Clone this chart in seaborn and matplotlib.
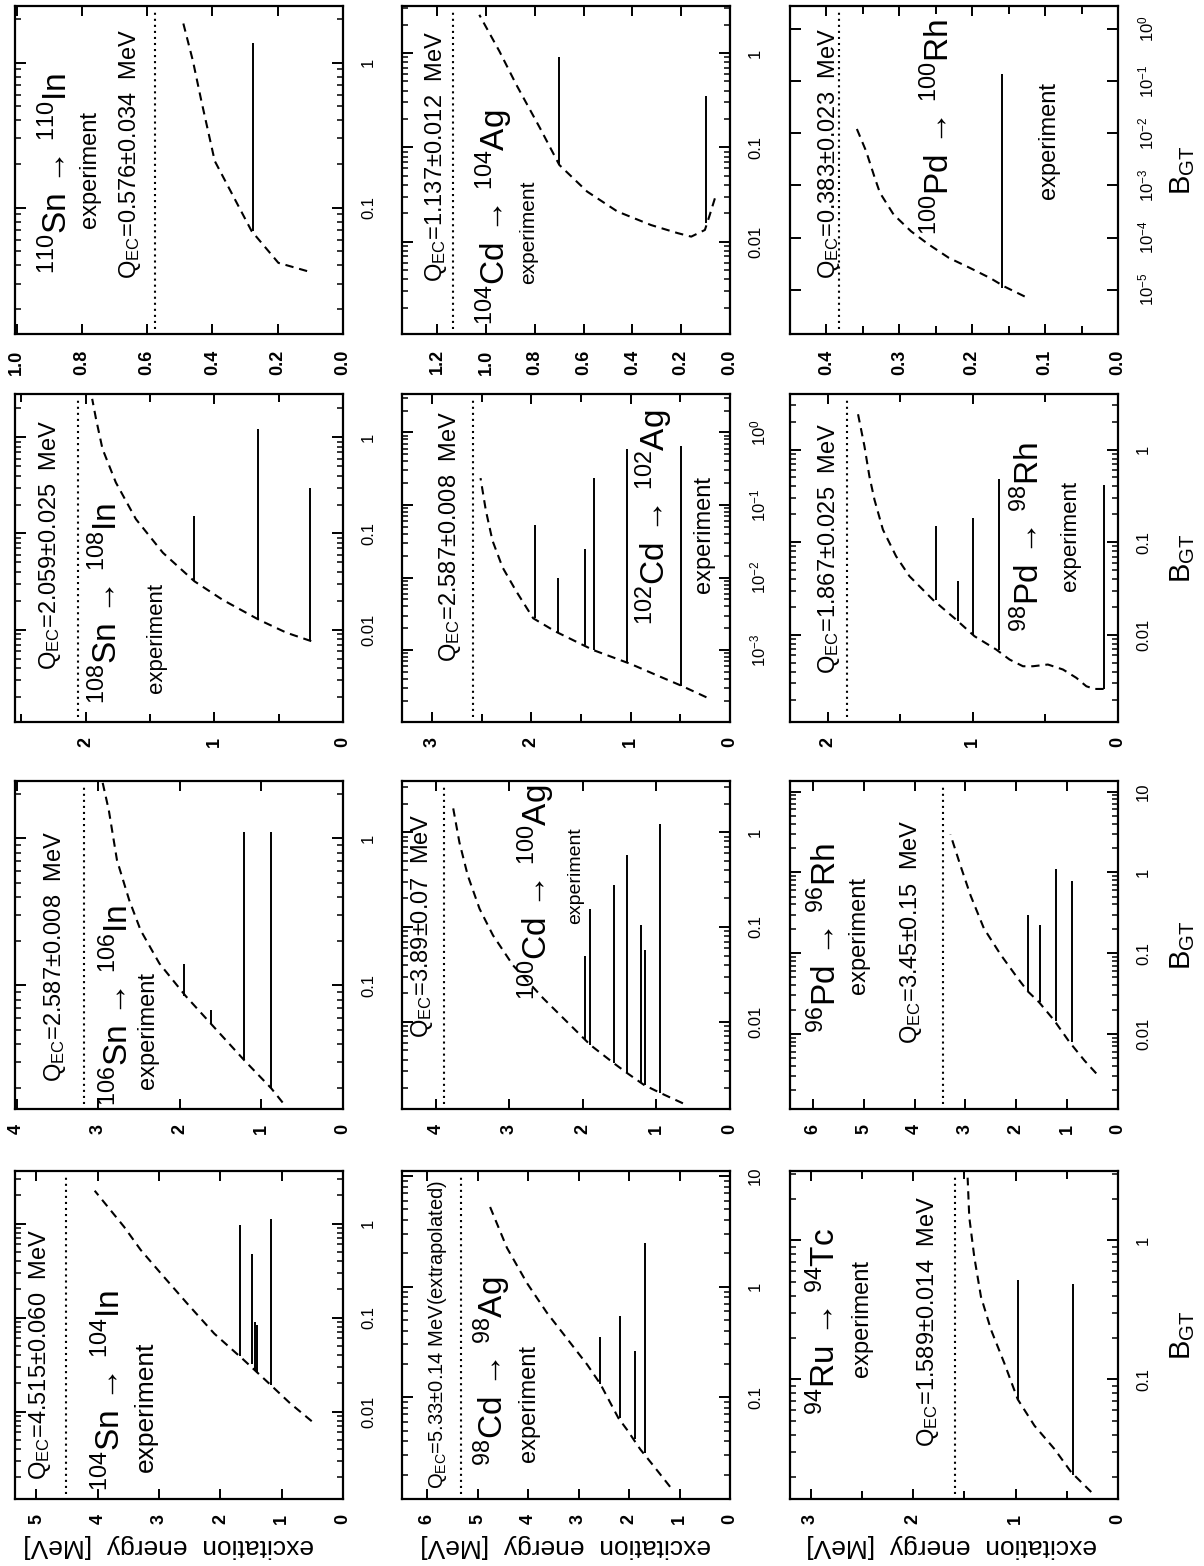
import numpy as np
import pandas as pd
import matplotlib
matplotlib.use("Agg")
import matplotlib.pyplot as plt
from matplotlib.ticker import (MultipleLocator, LogLocator, NullFormatter,
                               FuncFormatter, LogFormatterMathtext, NullLocator)
import seaborn as sns

sns.set_theme(style="ticks")
plt.rcParams["font.family"] = ["Liberation Sans", "DejaVu Sans"]
plt.rcParams["mathtext.fontset"] = "custom"
plt.rcParams["mathtext.rm"] = "Liberation Sans"
plt.rcParams["mathtext.it"] = "Liberation Sans:italic"
plt.rcParams["mathtext.bf"] = "Liberation Sans:bold"
plt.rcParams["axes.linewidth"] = 1.5
plt.rcParams["axes.edgecolor"] = "black"

# ---------------------------------------------------------------------------
# Gamow-Teller strength: sensitivity limit (dashed) and observed levels
# energies in MeV, B_GT dimensionless
# ---------------------------------------------------------------------------

# 110Sn -> 110In
sn110_limit_e = [0.11, 0.198, 0.28, 0.393, 0.434, 0.46, 0.49]
sn110_limit_b = [0.0366, 0.0417, 0.069, 0.21, 0.545, 1.03, 1.89]
sn110_level_e = [0.275]
sn110_level_b0 = [0.069]
sn110_level_b = [1.37]
sn110_q = 0.576
sn110_q_text = "0.576±0.034"

# 108Sn -> 108In
sn108_limit_e = [0.247, 0.44, 0.65, 0.935, 1.156, 1.40, 1.61, 1.766, 1.87, 1.92, 1.95]
sn108_limit_b = [0.0076, 0.0093, 0.0126, 0.0204, 0.0319, 0.063, 0.141, 0.339, 0.759, 1.55, 2.51]
sn108_level_e = [0.26, 0.66, 1.156]
sn108_level_b0 = [0.0076, 0.0126, 0.0319]
sn108_level_b = [0.30, 1.22, 0.152]
sn108_q = 2.059
sn108_q_text = "2.059±0.025"

# 106Sn -> 106In
sn106_limit_e = [0.74, 0.88, 1.21, 1.62, 1.93, 2.25, 2.48, 2.62, 2.77, 2.87, 2.95]
sn106_limit_b = [0.016, 0.02, 0.031, 0.055, 0.085, 0.141, 0.237, 0.38, 0.71, 1.55, 2.45]
sn106_level_e = [0.88, 1.21, 1.62, 1.95]
sn106_level_b0 = [0.02, 0.031, 0.055, 0.085]
sn106_level_b = [1.11, 1.11, 0.068, 0.14]
sn106_q = 3.18
sn106_q_text = "2.587±0.008"

# 104Sn -> 104In
sn104_limit_e = [0.51, 0.865, 1.24, 1.62, 2.1, 2.54, 2.97, 3.3, 3.57, 4.05]
sn104_limit_b = [0.0079, 0.0123, 0.0209, 0.0355, 0.0676, 0.141, 0.295, 0.525, 0.923, 2.24]
sn104_level_e = [1.18, 1.40, 1.43, 1.49, 1.68]
sn104_level_b0 = [0.019, 0.026, 0.0275, 0.0324, 0.039]
sn104_level_b = [1.13, 0.083, 0.09, 0.48, 0.96]
sn104_q = 4.515
sn104_q_text = "4.515±0.060"

# 104Cd -> 104Ag
cd104_limit_e = [0.062, 0.083, 0.103, 0.159, 0.214, 0.324, 0.462, 0.586, 0.70, 0.779, 0.876, 0.945, 1.028]
cd104_limit_b = [0.0288, 0.0192, 0.0133, 0.0113, 0.0123, 0.015, 0.0209, 0.034, 0.0652, 0.16, 0.461, 1.04, 2.55]
cd104_level_e = [0.097, 0.70]
cd104_level_b0 = [0.0157, 0.0652]
cd104_level_b = [0.35, 0.92]
cd104_q = 1.137
cd104_q_text = "1.137±0.012"

# 102Cd -> 102Ag
cd102_limit_e = [0.237, 0.49, 0.73, 1.0, 1.373, 1.475, 1.76, 1.98, 2.15, 2.288, 2.39, 2.457, 2.51]
cd102_limit_b = [0.000224, 0.000324, 0.000447, 0.000646, 0.001, 0.00117, 0.00182, 0.00275,
                 0.00646, 0.0138, 0.0324, 0.0851, 0.235]
cd102_level_e = [0.49, 1.034, 1.366, 1.458, 1.73, 1.966]
cd102_level_b0 = [0.000324, 0.00068, 0.001, 0.00117, 0.0018, 0.00275]
cd102_level_b = [0.65, 0.585, 0.235, 0.025, 0.01, 0.053]
cd102_q = 2.587
cd102_q_text = "2.587±0.008"

# 100Cd -> 100Ag
cd100_limit_e = [0.64, 0.937, 1.166, 1.394, 1.577, 1.897, 2.08, 2.537, 2.95, 3.223, 3.406, 3.566, 3.68, 3.77]
cd100_limit_b = [0.00138, 0.00176, 0.00215, 0.00286, 0.00364, 0.00568, 0.00785, 0.0176,
                 0.0394, 0.0817, 0.156, 0.35, 0.785, 1.9]
cd100_level_e = [0.946, 1.157, 1.211, 1.394, 1.577, 1.897, 1.966]
cd100_level_b0 = [0.00176, 0.00215, 0.0023, 0.00286, 0.00364, 0.00568, 0.0064]
cd100_level_b = [1.22, 0.057, 0.104, 0.57, 0.275, 0.156, 0.05]
cd100_q = 3.89
cd100_q_text = "3.89±0.07"

# 98Cd -> 98Ag
cd98_limit_e = [1.187, 1.516, 1.78, 2.04, 2.21, 2.57, 2.83, 3.23, 3.63, 4.02, 4.42, 4.78]
cd98_limit_b = [0.0155, 0.024, 0.0339, 0.0508, 0.0646, 0.132, 0.197, 0.339, 0.582, 1.07, 2.24, 5.6]
cd98_level_e = [1.68, 1.88, 2.175, 2.57]
cd98_level_b0 = [0.0316, 0.0415, 0.0645, 0.132]
cd98_level_b = [2.5, 0.26, 0.54, 0.35]
cd98_q = 5.33
cd98_q_text = "5.33±0.14"

# 100Pd -> 100Rh
pd100_limit_e = [0.128, 0.156, 0.175, 0.2036, 0.232, 0.260, 0.284, 0.3078, 0.3267, 0.3338, 0.3457, 0.36]
pd100_limit_b = [7.4e-6, 1.15e-5, 1.66e-5, 2.63e-5, 4.07e-5, 7.41e-5, 1.32e-4, 2.75e-4,
                 7.24e-4, 1.41e-3, 4.57e-3, 1.38e-2]
pd100_level_e = [0.1586]
pd100_level_b0 = [1.1e-5]
pd100_level_b = [0.136]
pd100_q = 0.383
pd100_q_text = "0.383±0.023"

# 98Pd -> 98Rh
pd98_limit_e = [0.099, 0.161, 0.218, 0.287, 0.379, 0.483, 0.586, 0.655, 0.747, 0.839, 0.989,
                1.115, 1.276, 1.437, 1.529, 1.62, 1.678, 1.713, 1.747, 1.793]
pd98_limit_b = [0.00261, 0.00261, 0.00279, 0.00344, 0.00423, 0.00479, 0.00459, 0.00459, 0.00542,
                0.00695, 0.00968, 0.0146, 0.024, 0.043, 0.0706, 0.137, 0.288, 0.515, 1.086, 2.49]
pd98_level_e = [0.099, 0.823, 1.0, 1.103, 1.257]
pd98_level_b0 = [0.00261, 0.00695, 0.01, 0.0141, 0.024]
pd98_level_b = [0.42, 0.487, 0.183, 0.038, 0.149]
pd98_q = 1.867
pd98_q_text = "1.867±0.025"

# 96Pd -> 96Rh
pd96_limit_e = [0.428, 0.66, 0.956, 1.252, 1.549, 1.78, 1.978, 2.307, 2.637, 2.9, 3.098, 3.296]
pd96_limit_b = [0.00324, 0.00468, 0.00794, 0.0146, 0.0245, 0.0339, 0.0494, 0.0955, 0.202,
                0.518, 1.21, 2.94]
pd96_level_e = [0.91, 1.22, 1.53, 1.767]
pd96_level_b0 = [0.0079, 0.0146, 0.0245, 0.0339]
pd96_level_b = [0.79, 1.1, 0.222, 0.295]
pd96_q = 3.45
pd96_q_text = "3.45±0.15"

# 94Ru -> 94Tc
ru94_limit_e = [0.261, 0.456, 0.62, 0.815, 0.978, 1.109, 1.239, 1.337, 1.402, 1.451, 1.467]
ru94_limit_b = [0.0155, 0.0215, 0.0316, 0.0465, 0.0719, 0.131, 0.228, 0.394, 0.76, 1.47, 2.83]
ru94_level_e = [0.44, 0.972]
ru94_level_b0 = [0.0205, 0.0719]
ru94_level_b = [0.49, 0.52]
ru94_q = 1.589
ru94_q_text = "1.589±0.014"

# parent / daughter nuclei
decays = {
    "sn110": ("110", "Sn", "110", "In"),
    "sn108": ("108", "Sn", "108", "In"),
    "sn106": ("106", "Sn", "106", "In"),
    "sn104": ("104", "Sn", "104", "In"),
    "cd104": ("104", "Cd", "104", "Ag"),
    "cd102": ("102", "Cd", "102", "Ag"),
    "cd100": ("100", "Cd", "100", "Ag"),
    "cd98": ("98", "Cd", "98", "Ag"),
    "pd100": ("100", "Pd", "100", "Rh"),
    "pd98": ("98", "Pd", "98", "Rh"),
    "pd96": ("96", "Pd", "96", "Rh"),
    "ru94": ("94", "Ru", "94", "Tc"),
}

series = {}
for key in decays:
    g = globals()
    series[key] = dict(limit_e=g[key + "_limit_e"], limit_b=g[key + "_limit_b"],
                       level_e=g[key + "_level_e"], level_b0=g[key + "_level_b0"],
                       level_b=g[key + "_level_b"], q=g[key + "_q"], q_text=g[key + "_q_text"])

# ---------------------------------------------------------------------------
# page layout (pixels); every panel is drawn turned a quarter turn
# ---------------------------------------------------------------------------
FIG_W, FIG_H = 1204, 1566
COL_X = [15, 402, 790]
ROW_TOP = [6, 394, 781, 1171]
PANEL_W, PANEL_H = 328, 328

# row, col, energy max, log10 B range, energy tick step, energy minor step,
# energy label format, B label style, B minor ticks,
# text anchors (axes fraction) and font sizes
layout = {
    "sn110": dict(row=0, col=0, emax=1.005, blog=(-1.87, 0.39), estep=0.2, eminor=None, efmt="%.1f",
                  bfmt="plain", bminor=True, q_xy=(0.352, 0.55), r_xy=(0.128, 0.49), x_xy=(0.229, 0.50),
                  x_fs=17),
    "sn108": dict(row=1, col=0, emax=2.55, blog=(-2.96, 0.45), estep=1, eminor=0.5, efmt="%d",
                  bfmt="plain", bminor=True, q_xy=(0.107, 0.54), r_xy=(0.28, 0.36), x_xy=(0.43, 0.257),
                  x_fs=16),
    "sn106": dict(row=2, col=0, emax=4.02, blog=(-1.84, 0.39), estep=1, eminor=None, efmt="%d",
                  bfmt="plain", bminor=True, q_xy=(0.122, 0.465), r_xy=(0.315, 0.315), x_xy=(0.407, 0.24),
                  x_fs=17),
    "sn104": dict(row=3, col=0, emax=5.35, blog=(-2.93, 0.56), estep=1, eminor=None, efmt="%d",
                  bfmt="plain", bminor=True, q_xy=(0.077, 0.44), r_xy=(0.29, 0.33), x_xy=(0.40, 0.28),
                  x_fs=19),
    "cd104": dict(row=0, col=1, emax=1.345, blog=(-2.98, 0.50), estep=0.2, eminor=None, efmt="%.1f",
                  bfmt="plain", bminor=True, q_xy=(0.105, 0.54), r_xy=(0.28, 0.355), x_xy=(0.385, 0.31),
                  x_fs=15),
    "cd102": dict(row=1, col=1, emax=3.3, blog=(-3.99, 0.53), estep=1, eminor=0.5, efmt="%d",
                  bfmt="pow", bminor=True, q_xy=(0.145, 0.566), r_xy=(0.77, 0.625), x_xy=(0.92, 0.572),
                  x_fs=17),
    "cd100": dict(row=2, col=1, emax=4.46, blog=(-2.92, 0.54), estep=1, eminor=None, efmt="%d",
                  bfmt="plain", bminor=True, q_xy=(0.062, 0.56), r_xy=(0.41, 0.66), x_xy=(0.53, 0.71),
                  x_fs=14),
    "cd98": dict(row=3, col=1, emax=6.5, blog=(-1.92, 1.045), estep=1, eminor=None, efmt="%d",
                 bfmt="plain", bminor=True, q_xy=(0.107, 0.5), r_xy=(0.274, 0.39), x_xy=(0.387, 0.29),
                 x_fs=17),
    "pd100": dict(row=0, col=2, emax=0.45, blog=(-5.85, 0.44), estep=0.1, eminor=0.05, efmt="%.1f",
                  bfmt="pow", bminor=False, q_xy=(0.12, 0.55), r_xy=(0.455, 0.63), x_xy=(0.79, 0.59),
                  x_fs=17),
    "pd98": dict(row=1, col=2, emax=2.26, blog=(-2.94, 0.60), estep=1, eminor=0.5, efmt="%d",
                 bfmt="plain", bminor=True, q_xy=(0.12, 0.53), r_xy=(0.727, 0.563), x_xy=(0.855, 0.566),
                 x_fs=16),
    "pd96": dict(row=2, col=2, emax=6.45, blog=(-2.93, 1.13), estep=1, eminor=None, efmt="%d",
                 bfmt="plain", bminor=True, q_xy=(0.37, 0.54), r_xy=(0.11, 0.52), x_xy=(0.21, 0.53),
                 x_fs=17),
    "ru94": dict(row=3, col=2, emax=3.2, blog=(-1.86, 0.50), estep=1, eminor=0.5, efmt="%d",
                 bfmt="plain", bminor=True, q_xy=(0.42, 0.54), r_xy=(0.106, 0.54), x_xy=(0.22, 0.55),
                 x_fs=17),
}

fig = plt.figure(figsize=(FIG_W / 100, FIG_H / 100), dpi=100)
fig.patch.set_facecolor("white")

for key, cfg in layout.items():
    d = series[key]
    x0 = COL_X[cfg["col"]]
    top = ROW_TOP[cfg["row"]]
    ax = fig.add_axes([x0 / FIG_W, 1 - (top + PANEL_H) / FIG_H, PANEL_W / FIG_W, PANEL_H / FIG_H])
    ax.set_facecolor("white")
    ax.set_yscale("log")

    # sensitivity limit
    limit = pd.DataFrame({"E": d["limit_e"], "B": d["limit_b"]})
    sns.lineplot(data=limit, x="E", y="B", ax=ax, color="black", lw=1.5,
                 linestyle=(0, (4, 2.8)), estimator=None, sort=True)
    # observed levels
    ax.vlines(d["level_e"], d["level_b0"], d["level_b"], color="black", lw=1.4)
    # Q_EC window
    ax.axvline(d["q"], ymin=0.015, ymax=0.985, color="black", lw=1.5, linestyle=(0, (1, 1.9)))

    ax.set_xlim(cfg["emax"], 0)
    ax.set_ylim(10 ** cfg["blog"][0], 10 ** cfg["blog"][1])
    ax.set_xlabel("")
    ax.set_ylabel("")
    for s in ax.spines.values():
        s.set_visible(True)
        s.set_linewidth(1.6)
        s.set_color("black")

    # energy ticks
    ax.xaxis.set_major_locator(MultipleLocator(cfg["estep"]))
    if cfg["eminor"]:
        ax.xaxis.set_minor_locator(MultipleLocator(cfg["eminor"]))
    else:
        ax.xaxis.set_minor_locator(NullLocator())
    ax.xaxis.set_major_formatter(FuncFormatter(lambda v, p, f=cfg["efmt"]: f % abs(v)))

    # B_GT ticks
    ax.yaxis.set_major_locator(LogLocator(base=10, numticks=30))
    if cfg["bminor"]:
        ax.yaxis.set_minor_locator(LogLocator(base=10, subs=np.arange(2, 10), numticks=30))
    else:
        ax.yaxis.set_minor_locator(NullLocator())
    ax.yaxis.set_minor_formatter(NullFormatter())
    if cfg["bfmt"] == "pow":
        ax.yaxis.set_major_formatter(LogFormatterMathtext())
    else:
        ax.yaxis.set_major_formatter(FuncFormatter(lambda v, p: "%g" % v))

    ax.tick_params(axis="both", which="both", direction="in", top=True, bottom=True, left=True,
                   right=True, labelleft=False, labelright=True, labeltop=False, labelbottom=True,
                   colors="black")
    ax.tick_params(axis="x", which="major", length=7, width=1.4, labelsize=13, pad=11, labelrotation=90)
    ax.tick_params(axis="x", which="minor", length=6, width=1.4)
    ax.tick_params(axis="y", which="major", length=8, width=1.4, labelsize=12, pad=13, labelrotation=90)
    ax.tick_params(axis="y", which="minor", length=4, width=1.1)
    for t in ax.get_xticklabels():
        t.set_fontweight("bold")
    for t in ax.get_yticklabels():
        t.set_va("center")

    # annotations
    a1, s1, a2, s2 = decays[key]
    reaction = rf"$^{{{a1}}}$" + s1 + " → " + rf"$^{{{a2}}}$" + s2
    if key == "cd98":
        qtxt = r"Q$_{\rm EC}$=" + d["q_text"] + " MeV(extrapolated)"
        qfs = 14.5
    else:
        qtxt = r"Q$_{\rm EC}$=" + d["q_text"] + "  MeV"
        qfs = 17
    ax.text(*cfg["q_xy"], qtxt, transform=ax.transAxes, rotation=90, ha="center", va="center",
            fontsize=qfs, color="black")
    ax.text(*cfg["r_xy"], reaction, transform=ax.transAxes, rotation=90, ha="center", va="center",
            fontsize=24, color="black")
    ax.text(*cfg["x_xy"], "experiment", transform=ax.transAxes, rotation=90, ha="center", va="center",
            fontsize=cfg["x_fs"], color="black")

# axis titles
for cx in [169, 566, 952]:
    fig.text(cx / FIG_W, 1 - 1546 / FIG_H, "excitation  energy  [MeV]", rotation=180,
             ha="center", va="center", fontsize=19, color="black")
for r in range(4):
    cy = 1 - (ROW_TOP[r] + PANEL_H / 2) / FIG_H
    fig.text(1183 / FIG_W, cy, r"B$_{\rm GT}$", rotation=90, ha="center", va="center",
             fontsize=21, color="black")

fig.savefig("out.png", dpi=100, facecolor="white")
